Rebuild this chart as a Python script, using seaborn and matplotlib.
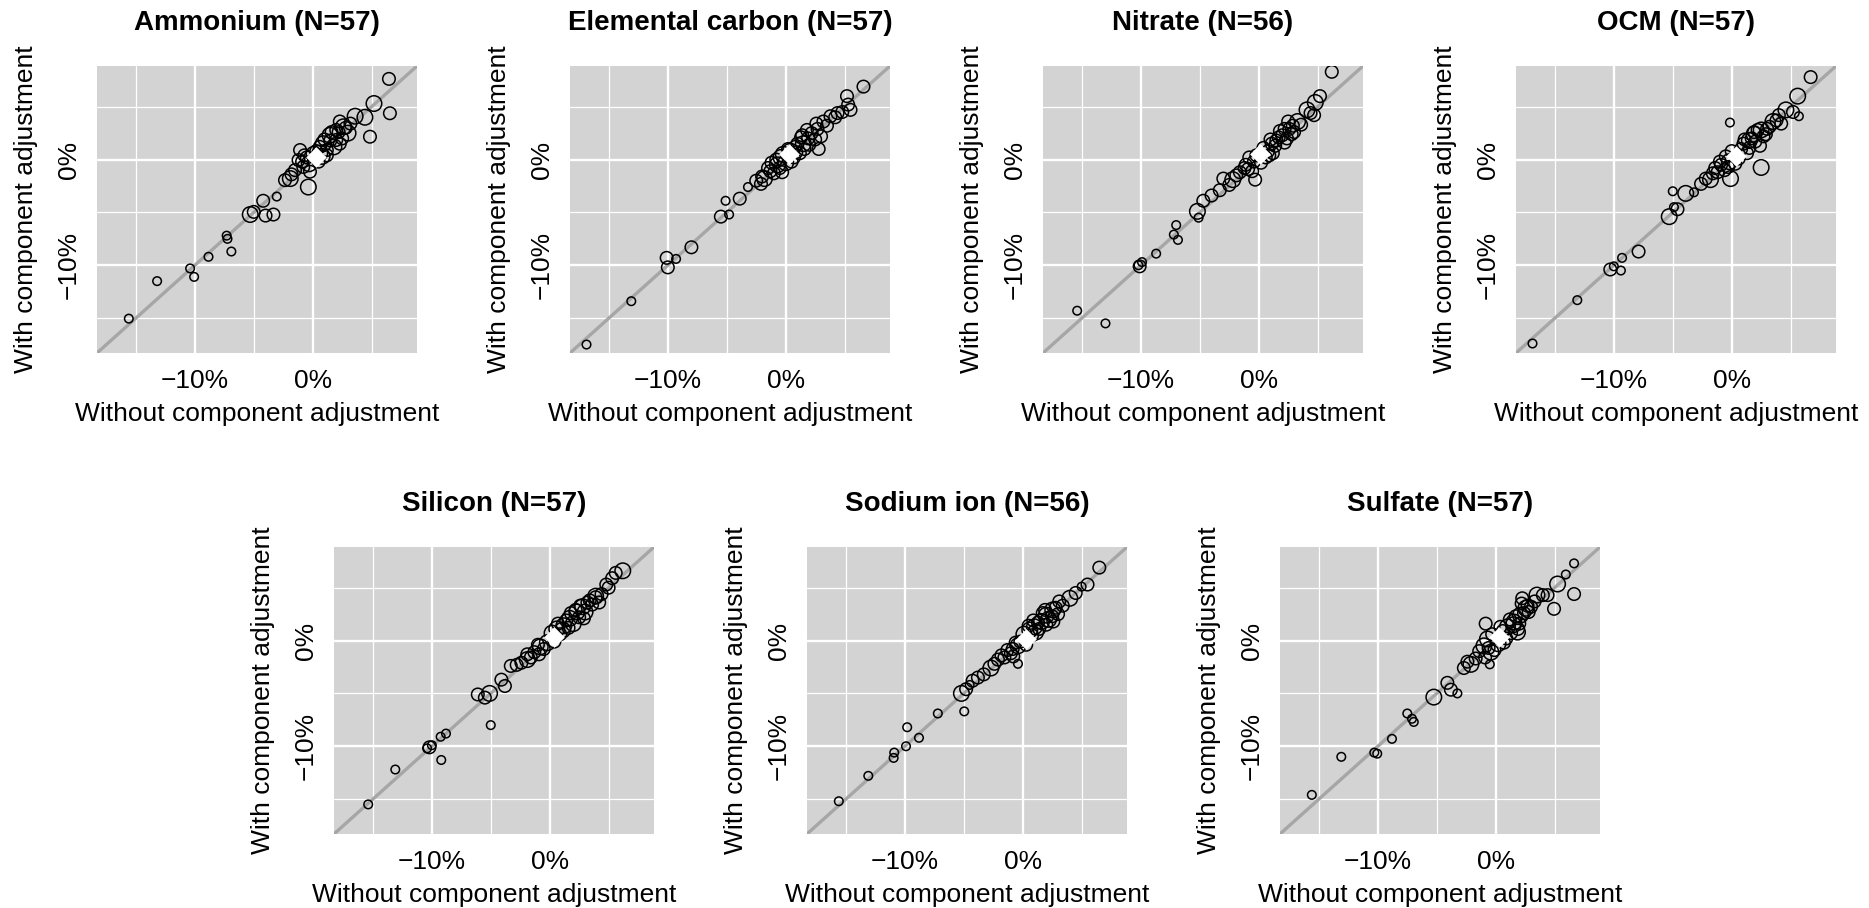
import numpy as np
import pandas as pd
import matplotlib
matplotlib.use("Agg")
import matplotlib.pyplot as plt
import seaborn as sns
from matplotlib.ticker import FixedLocator, FixedFormatter

sns.set_theme(style="darkgrid")
plt.rcParams['font.family'] = ['Liberation Sans', 'DejaVu Sans']

# ---------------- data ----------------
titles = ["Ammonium (N=57)", "Elemental carbon (N=57)", "Nitrate (N=56)", "OCM (N=57)",
          "Silicon (N=57)", "Sodium ion (N=56)", "Sulfate (N=57)"]
x_label = "Without component adjustment"
y_label = "With component adjustment"
major_ticks = [-10, 0]
minor_ticks = [-15, -5, 5]
tick_labels = ["\u221210%", "0%"]

amm_x = [6.47, 6.55, 5.2, 4.86, 4.43, 3.6, 2.3, 2.6, 2.2, 1.47, 2.0, 0.9, 1.2, 0.6, -1.07, -1.2, -0.8, -0.23,
         -1.9, -2.35, -0.37, -3.05, -4.2, -5.3, -5.0, -4.0, -3.33, -7.23, -6.9, -8.84, -10.4, -10.06, -13.2,
         -15.6, -7.3, 0.3, 0.8, 1.5, 1.8, 2.5, 2.8, 1.0, -0.5, -0.3, 0.5, 1.2, 3.0, -0.9, 2.0, -1.5, 0.1,
         1.6, 3.2, 0.6, -0.7, 2.3, -1.8]
amm_y = [7.63, 4.38, 5.3, 2.16, 4.0, 4.1, 3.6, 3.1, 2.6, 2.3, 1.85, 1.5, 0.9, 0.6, 0.9, -0.05, -0.7, -1.15,
         -1.8, -1.95, -2.6, -3.5, -3.9, -5.2, -4.95, -5.3, -5.2, -7.5, -8.7, -9.2, -10.3, -11.1, -11.5,
         -15.05, -7.2, 0.8, 0.3, 1.8, 1.2, 2.0, 3.0, 1.9, 0.2, -0.4, -0.2, 0.4, 2.5, -0.2, 2.8, -1.0, 0.5,
         2.6, 3.4, 1.2, 0.4, 1.5, -1.4]
amm_s = [2, 2, 3, 2, 3, 3, 2, 3, 2, 3, 2, 3, 2, 3, 2, 2, 2, 2, 3, 2, 3, 1, 2, 3, 2, 2, 2, 1, 1, 1, 1, 1, 1,
         1, 1, 2, 3, 2, 3, 2, 2, 2, 2, 3, 2, 2, 3, 2, 2, 2, 3, 2, 2, 2, 2, 2, 2]

ec_x = [6.6, 5.2, 5.3, 5.5, 4.4, 3.8, 3.2, 2.7, 2.8, 1.8, 1.3, 1.5, 0.4, -0.4, -0.7, -1.3, -1.8, -2.1, -3.2,
        -3.9, -5.1, -5.5, -4.8, -8.0, -9.3, -10.1, -10.0, -13.1, -16.9, 0.8, 1.2, 2.2, 2.5, 0.0, -0.8, -1.5,
        -0.2, 1.0, 3.5, 4.2, -1.0, 0.5, 1.6, 2.0, -2.5, 3.0, -0.5, 0.2, 1.4, 2.6, -1.2, 4.8, 0.7, -0.3, 1.9,
        -2.0, 0.9]
ec_y = [6.9, 6.0, 5.2, 4.7, 4.4, 4.1, 3.6, 2.9, 1.0, 2.8, 2.1, 1.5, 0.8, 0.2, -0.5, -1.1, -1.8, -2.3, -2.6,
        -3.7, -3.9, -5.4, -5.2, -8.3, -9.4, -9.3, -10.2, -13.4, -17.5, 1.2, 0.6, 2.5, 1.9, -0.3, 0.0, -0.8,
        0.5, 1.5, 3.2, 4.0, -1.3, -0.2, 1.0, 1.4, -2.0, 2.2, -0.8, 1.0, 2.3, 3.4, -0.3, 4.5, 0.2, -1.2, 2.0,
        -1.6, 0.7]
ec_s = [2, 2, 2, 2, 2, 2, 2, 2, 2, 2, 2, 3, 3, 3, 3, 2, 3, 2, 1, 2, 1, 2, 1, 2, 1, 2, 2, 1, 1, 2, 2, 2, 2,
        3, 2, 2, 3, 2, 2, 2, 2, 2, 2, 2, 2, 2, 2, 2, 2, 2, 2, 2, 2, 2, 2, 2, 2]

nit_x = [6.2, 5.2, 4.8, 4.1, 4.7, 3.3, 2.5, 2.2, 2.8, 1.7, 1.1, 0.8, -0.8, -1.1, -0.55, -0.3, -1.2, -2.2,
         -3.0, -3.3, -4.0, -4.7, -5.2, -5.1, -7.0, -7.2, -6.85, -8.7, -9.9, -10.1, -15.4, -13.0, -10.2, 1.5,
         2.0, 2.9, 0.4, 1.2, -0.4, 0.6, 2.4, 3.6, 1.8, -1.6, -0.9, 0.2, 1.0, 2.6, 3.0, -2.5, 0.9, -0.2, 1.4,
         4.4, 2.2, -1.9]
nit_y = [8.3, 6.0, 5.4, 4.7, 4.2, 3.6, 3.6, 2.9, 2.4, 2.1, 1.5, 0.8, 0.2, -0.5, -1.1, -1.9, -0.8, -1.9,
         -1.8, -2.9, -3.4, -3.9, -4.9, -5.5, -6.2, -7.1, -7.6, -8.9, -9.7, -10.1, -14.3, -15.5, -10.0, 1.8,
         2.3, 3.2, 1.1, 0.6, -0.2, 0.2, 2.0, 3.3, 2.7, -1.2, -0.9, -0.3, 1.9, 2.9, 2.6, -2.4, 0.4, 0.4, 1.3,
         4.4, 1.6, -1.5]
nit_s = [2, 2, 3, 3, 2, 3, 2, 2, 2, 2, 2, 2, 2, 2, 2, 2, 2, 3, 2, 2, 2, 2, 3, 1, 1, 1, 1, 1, 1, 2, 1, 1, 1,
         2, 2, 2, 2, 2, 2, 2, 2, 2, 2, 2, 2, 2, 2, 2, 2, 2, 2, 2, 2, 2, 2, 2]

ocm_x = [6.7, 5.6, 5.7, 5.2, 4.6, 4.2, 3.5, 3.0, 2.5, 1.9, 1.5, 1.0, -0.15, 2.5, -0.2, -0.9, -1.4, -0.1,
         -1.8, -2.2, -3.2, -3.9, -5.0, -4.6, -5.3, -4.9, -7.9, -9.3, -10.3, -9.4, -13.1, -16.9, -10.0, 0.8,
         1.3, 2.0, 2.7, -0.5, 0.3, 1.7, 2.2, -1.2, -0.6, 3.2, 0.6, 1.1, -1.6, 2.4, 3.8, 0.0, -2.6, 1.5, -0.3,
         4.0, 1.9, -1.0, 2.9]
ocm_y = [7.8, 6.0, 4.1, 4.5, 4.7, 3.4, 3.6, 2.9, 2.8, 2.4, 1.8, 1.5, 3.5, -0.75, -0.2, -0.5, -0.8, -1.8,
         -1.9, -1.8, -3.1, -3.2, -3.0, -4.7, -5.4, -4.5, -8.7, -9.3, -10.4, -10.5, -13.3, -17.4, -10.1, 1.0,
         0.6, 1.7, 2.2, 0.3, -0.4, 2.0, 2.8, -1.2, -1.0, 3.1, 0.1, 1.9, -1.3, 1.3, 3.7, 0.8, -2.3, 1.1, -0.7,
         4.2, 2.6, -0.2, 2.4]
ocm_s = [2, 3, 1, 2, 3, 2, 3, 2, 3, 3, 3, 2, 1, 3, 3, 2, 2, 3, 3, 2, 1, 3, 1, 2, 3, 1, 2, 1, 2, 1, 1, 1, 1,
         2, 2, 2, 2, 2, 2, 2, 2, 2, 2, 2, 2, 2, 2, 2, 2, 2, 2, 2, 2, 2, 2, 2, 2]

sil_x = [6.2, 5.6, 5.3, 4.8, 3.9, 3.4, 2.8, 2.3, 1.7, 1.2, 0.6, -0.2, -0.8, -1.3, -1.9, -2.4, -3.3, -4.1,
         -3.8, -5.1, -6.1, -5.5, -5.0, -8.8, -9.25, -10.2, -10.4, -9.2, -13.1, -15.4, -10.0, 0.9, 1.4, 2.0,
         2.5, 3.0, 3.6, 1.8, 0.2, -0.5, -1.0, -1.6, 2.6, 4.4, 4.2, 1.1, 0.4, -0.9, 3.2, 2.2, -2.8, 1.6, 5.0,
         0.7, -1.9, 2.9, 3.9]
sil_y = [6.6, 6.4, 5.9, 5.3, 4.2, 3.8, 3.2, 2.7, 2.1, 1.4, 1.1, -0.2, -0.6, -1.1, -1.8, -2.1, -2.4, -3.7,
         -4.3, -5.0, -5.1, -5.4, -8.0, -8.8, -9.1, -10.1, -10.2, -11.3, -12.2, -15.5, -9.9, 0.6, 1.9, 1.6,
         2.2, 2.7, 3.4, 2.6, 0.7, -0.8, -0.4, -1.6, 3.3, 4.4, 3.6, 1.0, -0.1, -1.3, 3.6, 2.9, -2.3, 1.2, 5.0,
         1.6, -1.3, 2.1, 4.1]
sil_s = [3, 2, 2, 2, 3, 2, 3, 3, 3, 3, 3, 3, 3, 2, 3, 2, 2, 2, 2, 3, 2, 2, 1, 1, 1, 2, 1, 1, 1, 1, 1, 2, 2,
         3, 2, 3, 2, 2, 3, 2, 2, 2, 2, 2, 2, 3, 2, 2, 2, 2, 2, 2, 2, 2, 2, 2, 2]

sod_x = [6.5, 5.5, 5.0, 4.0, 2.55, 2.0, 1.6, 1.0, 0.6, -0.4, -0.85, -0.4, -1.55, -2.1, -2.7, -3.8, -4.25,
         -4.8, -5.2, -4.96, -7.2, -9.8, -8.8, -9.9, -10.9, -10.95, -13.1, -15.6, -4.5, 0.8, 1.3, 2.2, 2.8,
         3.0, 1.7, 0.1, -0.2, -1.0, -1.3, 2.5, 3.4, 0.5, 1.1, -0.6, 2.0, -2.4, 0.3, 1.9, 4.5, -1.8, 3.1, 1.4,
         -0.8, 2.6, -3.3, 0.9]
sod_y = [6.9, 5.3, 5.1, 4.0, 2.9, 2.4, 1.8, 1.3, 1.0, -0.5, -0.8, -2.2, -1.6, -1.8, -2.6, -3.5, -3.8,
         -4.6, -5.0, -6.7, -6.9, -8.2, -9.2, -10.0, -10.6, -11.1, -12.8, -15.2, -4.2, 0.5, 1.7, 2.0, 3.1,
         2.5, 2.6, 0.6, -0.1, -1.2, -0.9, 2.3, 3.3, 1.4, 0.8, -0.2, 1.5, -2.2, -0.4, 2.9, 4.5, -1.4, 3.7, 1.1,
         -1.5, 1.8, -3.2, 1.9]
sod_s = [2, 2, 1, 3, 3, 3, 3, 3, 3, 3, 2, 1, 2, 2, 3, 2, 2, 2, 3, 1, 1, 1, 1, 1, 1, 1, 1, 1, 1, 2, 2, 3,
         2, 2, 2, 3, 2, 2, 2, 2, 2, 2, 3, 2, 2, 2, 2, 2, 2, 2, 2, 2, 2, 2, 2, 2]

sul_x = [6.65, 5.95, 5.25, 6.65, 4.4, 3.5, 4.95, 2.25, 2.55, 2.1, 1.55, 1.0, 1.85, -0.85, -0.7, -1.0, -0.4,
         -0.5, -2.1, -2.7, -3.25, -4.1, -3.8, -5.25, -7.5, -6.95, -8.8, -10.05, -10.3, -13.1, -15.6, -7.1,
         0.6, 1.3, 2.0, 2.7, 2.4, 1.7, 0.2, -0.3, -0.6, -1.4, 3.0, 0.9, 1.5, -0.9, 2.2, 3.3, 0.4, -1.7, 1.2,
         -0.1, 2.8, 4.0, 0.7, -2.4, 1.9]
sul_y = [7.3, 6.25, 5.35, 4.4, 4.3, 4.3, 3.0, 4.0, 3.05, 2.4, 1.75, 1.3, 0.8, 1.6, 0.15, -0.5, -1.1, -2.25,
         -2.25, -2.6, -5.0, -4.0, -4.65, -5.35, -6.9, -7.7, -9.3, -10.7, -10.6, -11.0, -14.6, -7.4, 0.9,
         0.7, 1.6, 3.3, 2.6, 2.3, -0.3, 0.6, -0.7, -1.0, 3.2, 0.2, 1.5, -1.6, 3.5, 3.7, 1.3, -1.7, 2.0,
         -0.9, 2.7, 4.3, -0.2, -2.0, 1.1]
sul_s = [1, 1, 3, 2, 2, 3, 2, 2, 3, 3, 3, 3, 3, 2, 3, 3, 3, 1, 3, 2, 1, 2, 2, 3, 1, 1, 1, 1, 1, 1, 1, 1,
         2, 2, 2, 2, 2, 2, 3, 2, 2, 2, 2, 2, 3, 2, 2, 2, 2, 2, 2, 2, 2, 2, 2, 2, 2]

mean_x = [0.25, 0.28, 0.14, 0.34, 0.33, 0.28, 0.28]
mean_y = [0.27, 0.49, 0.49, 0.32, 0.32, 0.16, 0.32]

panels = [(amm_x, amm_y, amm_s), (ec_x, ec_y, ec_s), (nit_x, nit_y, nit_s), (ocm_x, ocm_y, ocm_s),
          (sil_x, sil_y, sil_s), (sod_x, sod_y, sod_s), (sul_x, sul_y, sul_s)]

# ---------------- layout ----------------
FW, FH = 1869, 908
fig = plt.figure(figsize=(FW / 100, FH / 100), dpi=100)
corners = [(97, 66), (570, 66), (1043, 66), (1516, 66), (334, 547), (807, 547), (1280, 547)]
PW, PH = 320, 287
lims = (-18.3, 8.85)
BG = "#D3D3D3"

for i, ((xs, ys, ss), (L, T)) in enumerate(zip(panels, corners)):
    ax = fig.add_axes([L / FW, 1 - (T + PH) / FH, PW / FW, PH / FH])
    ax.set_facecolor(BG)
    ax.set_axisbelow(True)
    df = pd.DataFrame({"x": xs, "y": ys, "s": ss})
    ax.axline((0, 0), slope=1, color="#A6A6A6", lw=2.4, zorder=1.5)
    sns.scatterplot(data=df, x="x", y="y", size="s", sizes=(38, 125), size_norm=(1, 3),
                    facecolors="none", edgecolor="black", linewidth=1.1, legend=False,
                    ax=ax, zorder=3)
    sns.scatterplot(x=[mean_x[i]], y=[mean_y[i]], marker="D", color="white", s=110,
                    linewidth=0, ax=ax, zorder=4, legend=False)
    ax.set_xlim(lims)
    ax.set_ylim(lims)
    for axis in (ax.xaxis, ax.yaxis):
        axis.set_major_locator(FixedLocator(major_ticks))
        axis.set_minor_locator(FixedLocator(minor_ticks))
        axis.set_major_formatter(FixedFormatter(tick_labels))
    ax.grid(which="major", color="white", lw=1.7)
    ax.grid(which="minor", color="white", lw=0.9)
    ax.tick_params(which="major", length=3, width=0.8, color="#8C8C8C", labelsize=19,
                   pad=8.5, labelcolor="black")
    ax.tick_params(which="minor", length=0)
    for sp in ax.spines.values():
        sp.set_visible(False)
    for lab in ax.get_yticklabels():
        lab.set_rotation(90)
        lab.set_va("center")
    ax.set_xlabel(x_label, fontsize=19, color="black")
    ax.set_ylabel(y_label, fontsize=19, color="black")
    ax.xaxis.set_label_coords(0.5, -61 / PH)
    ax.xaxis.label.set_va("center")
    ax.yaxis.set_label_coords(-71 / PW, 0.5)
    ax.yaxis.label.set_va("center")
    ax.text(0.5, 1 + 43 / PH, titles[i], transform=ax.transAxes, ha="center", va="center",
            fontsize=20, fontweight="bold", color="black")

fig.savefig("out.png", dpi=100, facecolor="white")
